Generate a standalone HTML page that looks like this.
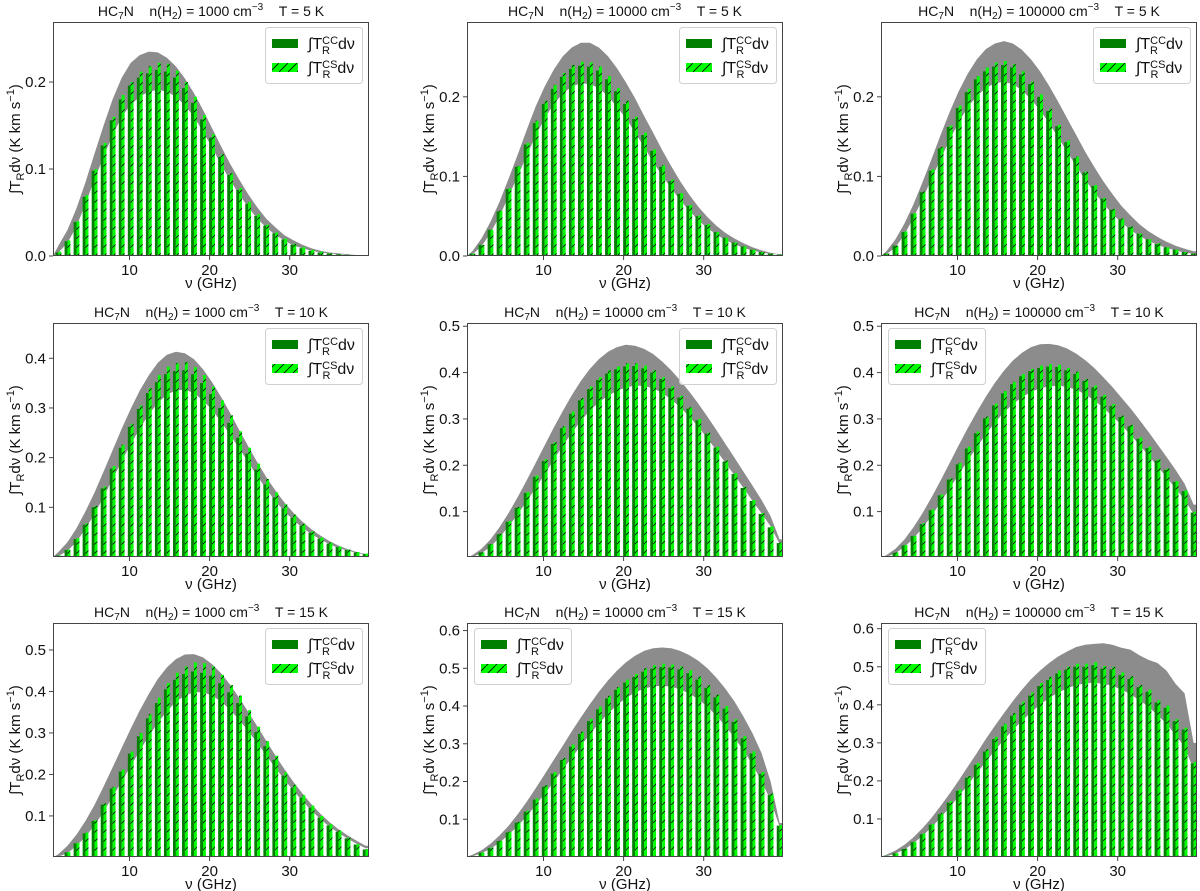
<!DOCTYPE html>
<html><head><meta charset="utf-8">
<style>
html,body{margin:0;padding:0;background:#fff;}
svg{display:block;font-family:"Liberation Sans","DejaVu Sans",sans-serif;}
</style></head>
<body>
<svg id="fig" width="1200" height="891" viewBox="0 0 1200 891" xmlns="http://www.w3.org/2000/svg">
<defs>
<pattern id="hatch" patternUnits="userSpaceOnUse" width="9" height="9">
<path d="M-1,10 L10,-1" stroke="#000" stroke-width="0.8"/>
</pattern>
</defs>
</svg>
<script>
// line frequencies (GHz)
const nu = [1.128,2.256,3.384,4.512,5.640,6.768,7.896,9.024,10.152,11.280,12.408,13.536,14.664,15.792,16.920,18.048,19.176,20.304,21.432,22.560,23.688,24.816,25.944,27.072,28.200,29.328,30.456,31.584,32.712,33.840,34.968,36.096,37.224,38.352,39.480];
const xTicks = [10,20,30];
const densities = ["1000","10000","100000"];
const temps = ["5","10","15"];

// Panel 1: n=1000, T=5
const p1cs = [.005,.018,.040,.070,.100,.130,.160,.185,.200,.212,.218,.222,.221,.213,.200,.183,.162,.140,.117,.095,.078,.062,.048,.036,.027,.020,.014,.010,.007,.005,.003,.002,.0015,.001,.0007];
const p1cc = [.004,.017,.039,.068,.098,.127,.156,.180,.196,.205,.210,.214,.212,.205,.193,.176,.157,.136,.114,.093,.076,.060,.046,.035,.026,.019,.013,.009,.006,.004,.003,.002,.0013,.0009,.0006];
const p1hi = [.012,.030,.055,.085,.118,.150,.180,.205,.222,.231,.235,.234,.228,.218,.204,.187,.168,.147,.126,.106,.088,.071,.056,.043,.033,.024,.018,.013,.009,.006,.004,.003,.002,.001,.001];
const p1lo = [.004,.015,.034,.060,.088,.114,.139,.160,.174,.183,.189,.191,.189,.183,.173,.160,.143,.125,.105,.087,.071,.056,.043,.033,.024,.018,.012,.009,.006,.004,.003,.002,.001,.001,.0005];
const p1yTicks = [0.0,0.1,0.2];
// Panel 2: n=10000, T=5
const p2cs = [.003,.014,.033,.057,.085,.113,.142,.170,.195,.215,.230,.240,.244,.243,.238,.226,.211,.195,.175,.155,.134,.114,.096,.079,.064,.051,.040,.030,.023,.017,.012,.008,.005,.003,.002];
const p2cc = [.003,.014,.033,.056,.084,.112,.140,.167,.191,.210,.225,.235,.239,.238,.233,.222,.207,.191,.172,.152,.132,.112,.094,.078,.063,.050,.039,.030,.023,.017,.012,.008,.005,.003,.002];
const p2hi = [.006,.022,.043,.068,.097,.127,.158,.188,.213,.234,.251,.262,.268,.268,.262,.251,.236,.218,.198,.176,.155,.133,.113,.094,.077,.062,.049,.038,.029,.022,.016,.011,.007,.004,.002];
const p2lo = [.002,.012,.029,.050,.075,.100,.126,.151,.173,.191,.204,.213,.217,.216,.211,.201,.187,.173,.155,.137,.118,.101,.085,.070,.057,.045,.035,.027,.020,.015,.010,.007,.004,.003,.002];
const p2yTicks = [0.0,0.1,0.2];
// Panel 3: n=100000, T=5
const p3cs = [.003,.013,.031,.054,.081,.109,.137,.164,.189,.210,.226,.237,.243,.245,.241,.232,.219,.203,.185,.165,.145,.125,.106,.089,.073,.059,.047,.037,.028,.021,.016,.011,.008,.005,.003];
const p3cc = [.003,.013,.030,.053,.080,.107,.135,.162,.186,.206,.222,.232,.238,.240,.237,.228,.216,.200,.182,.163,.143,.123,.105,.088,.072,.058,.046,.036,.028,.021,.015,.011,.008,.005,.003];
const p3hi = [.006,.021,.041,.065,.093,.122,.152,.181,.207,.229,.247,.260,.267,.270,.267,.259,.247,.232,.214,.194,.173,.152,.131,.112,.094,.078,.063,.051,.040,.031,.024,.018,.013,.009,.006];
const p3lo = [.002,.011,.027,.048,.072,.097,.122,.146,.168,.187,.201,.211,.217,.219,.216,.208,.197,.183,.167,.149,.131,.113,.096,.080,.066,.053,.042,.033,.025,.019,.014,.010,.007,.004,.003];
const p3yTicks = [0.0,0.1,0.2];
// Panel 4: n=1000, T=10
const p4cs = [.003,.015,.038,.068,.103,.142,.183,.226,.268,.305,.340,.366,.383,.390,.392,.382,.366,.343,.315,.285,.253,.220,.188,.157,.130,.106,.085,.067,.052,.039,.029,.021,.015,.010,.007];
const p4cc = [.003,.014,.036,.065,.100,.138,.178,.220,.262,.298,.330,.352,.368,.374,.376,.368,.350,.328,.300,.270,.240,.208,.176,.146,.120,.098,.079,.063,.049,.037,.027,.020,.014,.009,.006];
const p4hi = [.010,.030,.058,.092,.130,.172,.215,.258,.298,.335,.366,.391,.407,.413,.410,.398,.378,.352,.322,.290,.256,.223,.191,.161,.134,.110,.089,.071,.056,.043,.032,.023,.016,.010,.006];
const p4lo = [.002,.012,.031,.057,.087,.121,.157,.193,.227,.258,.287,.310,.327,.335,.337,.330,.315,.296,.272,.246,.219,.191,.163,.137,.113,.092,.074,.059,.046,.035,.026,.018,.013,.008,.005];
const p4yTicks = [0.1,0.2,0.3,0.4];
// Panel 5: n=10000, T=10
const p5cs = [.003,.012,.030,.052,.080,.110,.142,.178,.213,.250,.284,.316,.345,.370,.390,.405,.413,.420,.420,.415,.405,.390,.370,.350,.325,.300,.270,.240,.210,.183,.153,.125,.097,.068,.033];
const p5cc = [.003,.012,.029,.051,.078,.108,.140,.175,.209,.246,.280,.311,.340,.364,.384,.398,.407,.413,.414,.409,.400,.386,.366,.346,.322,.297,.268,.238,.208,.181,.151,.123,.095,.066,.032];
const p5hi = [.006,.020,.040,.066,.097,.131,.167,.205,.243,.281,.317,.351,.382,.408,.429,.445,.455,.460,.458,.451,.440,.424,.405,.383,.359,.333,.305,.276,.246,.216,.186,.156,.125,.090,.040];
const p5lo = [.002,.010,.024,.044,.068,.094,.122,.151,.181,.212,.242,.270,.296,.318,.336,.350,.361,.368,.372,.371,.366,.356,.342,.325,.305,.283,.258,.232,.205,.178,.151,.123,.096,.068,.030];
const p5yTicks = [0.1,0.2,0.3,0.4,0.5];
// Panel 6: n=100000, T=10
const p6cs = [.003,.012,.028,.048,.075,.105,.137,.172,.205,.240,.273,.305,.333,.360,.380,.397,.408,.415,.418,.417,.410,.402,.386,.372,.352,.332,.307,.287,.260,.240,.213,.193,.166,.146,.100];
const p6cc = [.003,.011,.027,.047,.073,.103,.135,.169,.202,.236,.269,.301,.329,.355,.375,.392,.403,.410,.413,.412,.405,.397,.382,.368,.348,.328,.304,.284,.257,.237,.210,.190,.164,.144,.098];
const p6hi = [.006,.020,.040,.066,.097,.131,.167,.205,.243,.280,.315,.348,.378,.404,.426,.443,.455,.461,.462,.459,.452,.441,.427,.410,.390,.369,.346,.323,.298,.272,.245,.218,.190,.160,.115];
const p6lo = [.002,.010,.024,.042,.065,.091,.120,.150,.180,.210,.239,.267,.292,.314,.332,.347,.358,.366,.370,.372,.369,.363,.353,.340,.324,.306,.287,.266,.244,.221,.198,.174,.150,.125,.095];
const p6yTicks = [0.1,0.2,0.3,0.4,0.5];
// Panel 7: n=1000, T=15
const p7cs = [.003,.013,.035,.060,.090,.130,.170,.212,.255,.300,.345,.385,.420,.445,.460,.470,.468,.460,.440,.415,.390,.355,.315,.280,.245,.205,.175,.150,.125,.100,.080,.065,.048,.032,.020];
const p7cc = [.003,.012,.034,.058,.088,.127,.166,.207,.250,.292,.335,.372,.405,.428,.442,.448,.445,.438,.420,.398,.372,.340,.302,.268,.235,.197,.168,.144,.120,.096,.077,.062,.046,.031,.019];
const p7hi = [.008,.028,.055,.088,.127,.171,.217,.264,.310,.354,.394,.430,.458,.478,.489,.490,.482,.466,.444,.416,.385,.351,.316,.281,.246,.213,.182,.154,.128,.105,.085,.068,.053,.040,.028];
const p7lo = [.002,.010,.028,.050,.078,.110,.146,.183,.220,.257,.292,.325,.352,.375,.390,.398,.398,.390,.376,.356,.332,.305,.276,.246,.216,.188,.161,.136,.113,.092,.074,.059,.045,.033,.022];
const p7yTicks = [0.1,0.2,0.3,0.4,0.5];
// Panel 8: n=10000, T=15
const p8cs = [.003,.012,.025,.043,.067,.093,.123,.155,.190,.225,.262,.298,.332,.366,.398,.427,.450,.470,.485,.500,.508,.512,.510,.505,.495,.478,.455,.430,.400,.365,.320,.280,.225,.168,.085];
const p8cc = [.003,.011,.024,.042,.065,.091,.120,.152,.186,.221,.257,.292,.326,.360,.391,.420,.443,.462,.477,.491,.499,.503,.502,.497,.487,.470,.448,.423,.393,.358,.314,.274,.220,.164,.083];
const p8hi = [.006,.018,.035,.057,.083,.113,.146,.182,.219,.257,.295,.333,.370,.405,.438,.468,.494,.516,.533,.546,.553,.555,.553,.546,.535,.520,.500,.475,.446,.412,.372,.328,.275,.200,.090];
const p8lo = [.002,.010,.022,.038,.059,.082,.108,.137,.168,.199,.232,.264,.295,.325,.354,.380,.403,.421,.436,.446,.452,.454,.451,.444,.433,.418,.398,.374,.347,.316,.282,.245,.200,.150,.080];
const p8yTicks = [0.1,0.2,0.3,0.4,0.5,0.6];
// Panel 9: n=100000, T=15
const p9cs = [.003,.010,.022,.040,.062,.087,.115,.147,.178,.213,.247,.283,.316,.350,.378,.408,.432,.457,.473,.490,.500,.508,.508,.512,.502,.500,.485,.475,.452,.440,.412,.398,.362,.340,.250];
const p9cc = [.003,.010,.021,.039,.060,.085,.112,.143,.174,.208,.242,.277,.310,.343,.371,.400,.424,.449,.465,.482,.492,.500,.500,.504,.495,.493,.478,.468,.446,.434,.406,.392,.357,.335,.246];
const p9hi = [.006,.017,.032,.052,.076,.103,.134,.167,.201,.237,.273,.310,.345,.378,.410,.440,.467,.490,.510,.527,.540,.552,.558,.560,.562,.558,.550,.545,.530,.518,.510,.490,.455,.430,.300];
const p9lo = [.002,.009,.020,.036,.056,.078,.103,.131,.160,.190,.220,.250,.280,.308,.334,.358,.380,.400,.418,.432,.443,.452,.456,.458,.455,.450,.440,.428,.412,.395,.373,.350,.320,.290,.230];
const p9yTicks = [0.1,0.2,0.3,0.4,0.5,0.6];

const NS = "http://www.w3.org/2000/svg";
const svg = document.getElementById('fig');
function mk(tag, attrs, parent){
  const e = document.createElementNS(NS, tag);
  for (const k in attrs) e.setAttribute(k, attrs[k]);
  (parent||svg).appendChild(e);
  return e;
}
const colL = [53,467,881], rowT = [22,323,623];
const W = 316, H = 234;
const XMIN = 0.45, XMAX = 39.9;
const BW = 0.36;
const SP = '\u00a0\u00a0\u00a0\u00a0';

const panels = [
 {cs:p1cs,cc:p1cc,hi:p1hi,lo:p1lo,yt:p1yTicks,ymin:0,ymax:0.269,leg:'r'},
 {cs:p2cs,cc:p2cc,hi:p2hi,lo:p2lo,yt:p2yTicks,ymin:0,ymax:0.294,leg:'r'},
 {cs:p3cs,cc:p3cc,hi:p3hi,lo:p3lo,yt:p3yTicks,ymin:0,ymax:0.294,leg:'r'},
 {cs:p4cs,cc:p4cc,hi:p4hi,lo:p4lo,yt:p4yTicks,ymin:0,ymax:0.471,leg:'r'},
 {cs:p5cs,cc:p5cc,hi:p5hi,lo:p5lo,yt:p5yTicks,ymin:0.002,ymax:0.507,leg:'r'},
 {cs:p6cs,cc:p6cc,hi:p6hi,lo:p6lo,yt:p6yTicks,ymin:0.002,ymax:0.507,leg:'l'},
 {cs:p7cs,cc:p7cc,hi:p7hi,lo:p7lo,yt:p7yTicks,ymin:0.001,ymax:0.565,leg:'r'},
 {cs:p8cs,cc:p8cc,hi:p8hi,lo:p8lo,yt:p8yTicks,ymin:0,ymax:0.62,leg:'l'},
 {cs:p9cs,cc:p9cc,hi:p9hi,lo:p9lo,yt:p9yTicks,ymin:0,ymax:0.615,leg:'l'}
];

panels.forEach((p, idx) => {
  const r = Math.floor(idx/3), c = idx%3;
  const L = colL[c], T = rowT[r];
  const xs = v => L + (v - XMIN) / (XMAX - XMIN) * W;
  const ys = v => T + H - (v - p.ymin) / (p.ymax - p.ymin) * H;
  const g = mk('g', {});
  
  
  const clipId = 'clip' + idx;
  const cp = mk('clipPath', {id: clipId}, g);
  mk('rect', {x: L, y: T, width: W, height: H}, cp);
  const plot = mk('g', {'clip-path': 'url(#' + clipId + ')'}, g);

  let pts = [[xs(XMIN), ys(0)]];
  nu.forEach((v,i) => pts.push([xs(v), ys(p.hi[i])]));
  pts.push([xs(XMAX+1), ys(p.hi[p.hi.length-1])]);
  pts.push([xs(XMAX+1), ys(p.lo[p.lo.length-1])]);
  for (let i = nu.length-1; i >= 0; i--) pts.push([xs(nu[i]), ys(p.lo[i])]);
  const band = mk('polygon', {points: pts.map(q => q[0].toFixed(1)+','+q[1].toFixed(1)).join(' '), fill: '#8c8c8c'}, plot);
  
  

  nu.forEach((v,i) => {
    const x0 = xs(v - BW), x1 = xs(v), x2 = xs(v + BW);
    const b1 = mk('rect', {x: x0.toFixed(2), y: ys(p.cc[i]).toFixed(2), width: (x1-x0).toFixed(2), height: Math.max(0, ys(0)-ys(p.cc[i])).toFixed(2), fill: '#007f00'}, plot);
    
    
    const b2 = mk('rect', {x: x1.toFixed(2), y: ys(p.cs[i]).toFixed(2), width: (x2-x1).toFixed(2), height: Math.max(0, ys(0)-ys(p.cs[i])).toFixed(2), fill: '#00ff00'}, plot);
    
    
    mk('rect', {x: x1.toFixed(2), y: ys(p.cs[i]).toFixed(2), width: (x2-x1).toFixed(2), height: Math.max(0, ys(0)-ys(p.cs[i])).toFixed(2), fill: 'url(#hatch)'}, plot);
  });

  const fr = mk('rect', {x: L+0.5, y: T+0.5, width: W-1, height: H-1, fill: 'none', stroke: '#444', 'stroke-width': 1}, g);
  
  

  xTicks.forEach(t => {
    const x = xs(t);
    mk('line', {x1: x, x2: x, y1: T+H, y2: T+H+4, stroke: '#444'}, g);
    const tl = mk('text', {x: x, y: T+H+19, 'font-size': 15, 'text-anchor': 'middle', fill: '#111'}, g);
    tl.textContent = t;
    
    
  });
  p.yt.forEach(t => {
    const y = ys(t);
    mk('line', {x1: L-4, x2: L, y1: y, y2: y, stroke: '#444'}, g);
    const tl = mk('text', {x: L-7, y: y+5, 'font-size': 15, 'text-anchor': 'end', fill: '#111'}, g);
    tl.textContent = t.toFixed(1);
    
    
  });
  const xl = mk('text', {x: L+W/2, y: T+H+32, 'font-size': 15, 'text-anchor': 'middle', fill: '#111'}, g);
  xl.textContent = 'ν (GHz)';
  
  
  const yl = mk('text', {transform: 'translate(' + (L-33) + ',' + (T+H/2) + ') rotate(-90)', 'font-size': 15, 'text-anchor': 'middle', fill: '#111'}, g);
  yl.innerHTML = '∫T<tspan font-size="11" dy="4">R</tspan><tspan dy="-4">dν (K km s</tspan><tspan font-size="11" dy="-6">−1</tspan><tspan dy="6">)</tspan>';
  
  
  const tt = mk('text', {x: L+W/2, y: T-6, 'font-size': 14, 'text-anchor': 'middle', fill: '#111'}, g);
  tt.innerHTML = 'HC<tspan font-size="10" dy="3">7</tspan><tspan dy="-3">N' + SP + 'n(H</tspan><tspan font-size="10" dy="3">2</tspan><tspan dy="-3">) = ' + densities[c] + ' cm</tspan><tspan font-size="10" dy="-6">−3</tspan><tspan dy="6">' + SP + 'T = ' + temps[r] + ' K</tspan>';
  
  

  const lx = p.leg === 'r' ? L + W - 104 : L + 7;
  const ly = T + 5;
  const lg = mk('g', {}, g);
  
  
  mk('rect', {x: lx+0.5, y: ly+0.5, width: 97, height: 56, rx: 3, fill: '#fff', 'fill-opacity': 0.85, stroke: '#d0d0d0'}, lg);
  mk('rect', {x: lx+7, y: ly+12, width: 26, height: 9, fill: '#007f00'}, lg);
  mk('rect', {x: lx+7, y: ly+36, width: 26, height: 9, fill: '#00ff00'}, lg);
  mk('rect', {x: lx+7, y: ly+36, width: 26, height: 9, fill: 'url(#hatch)'}, lg);
  const e1 = mk('text', {x: lx+43, y: ly+22, 'font-size': 16, fill: '#111'}, lg);
  e1.innerHTML = '∫T<tspan font-size="11" dy="-5">CC</tspan><tspan font-size="11" dx="-16" dy="10">R</tspan><tspan dx="8" dy="-5">dν</tspan>';
  
  
  const e2 = mk('text', {x: lx+43, y: ly+46, 'font-size': 16, fill: '#111'}, lg);
  e2.innerHTML = '∫T<tspan font-size="11" dy="-5">CS</tspan><tspan font-size="11" dx="-15" dy="10">R</tspan><tspan dx="7" dy="-5">dν</tspan>';
  
  
});
</script>
</body></html>
